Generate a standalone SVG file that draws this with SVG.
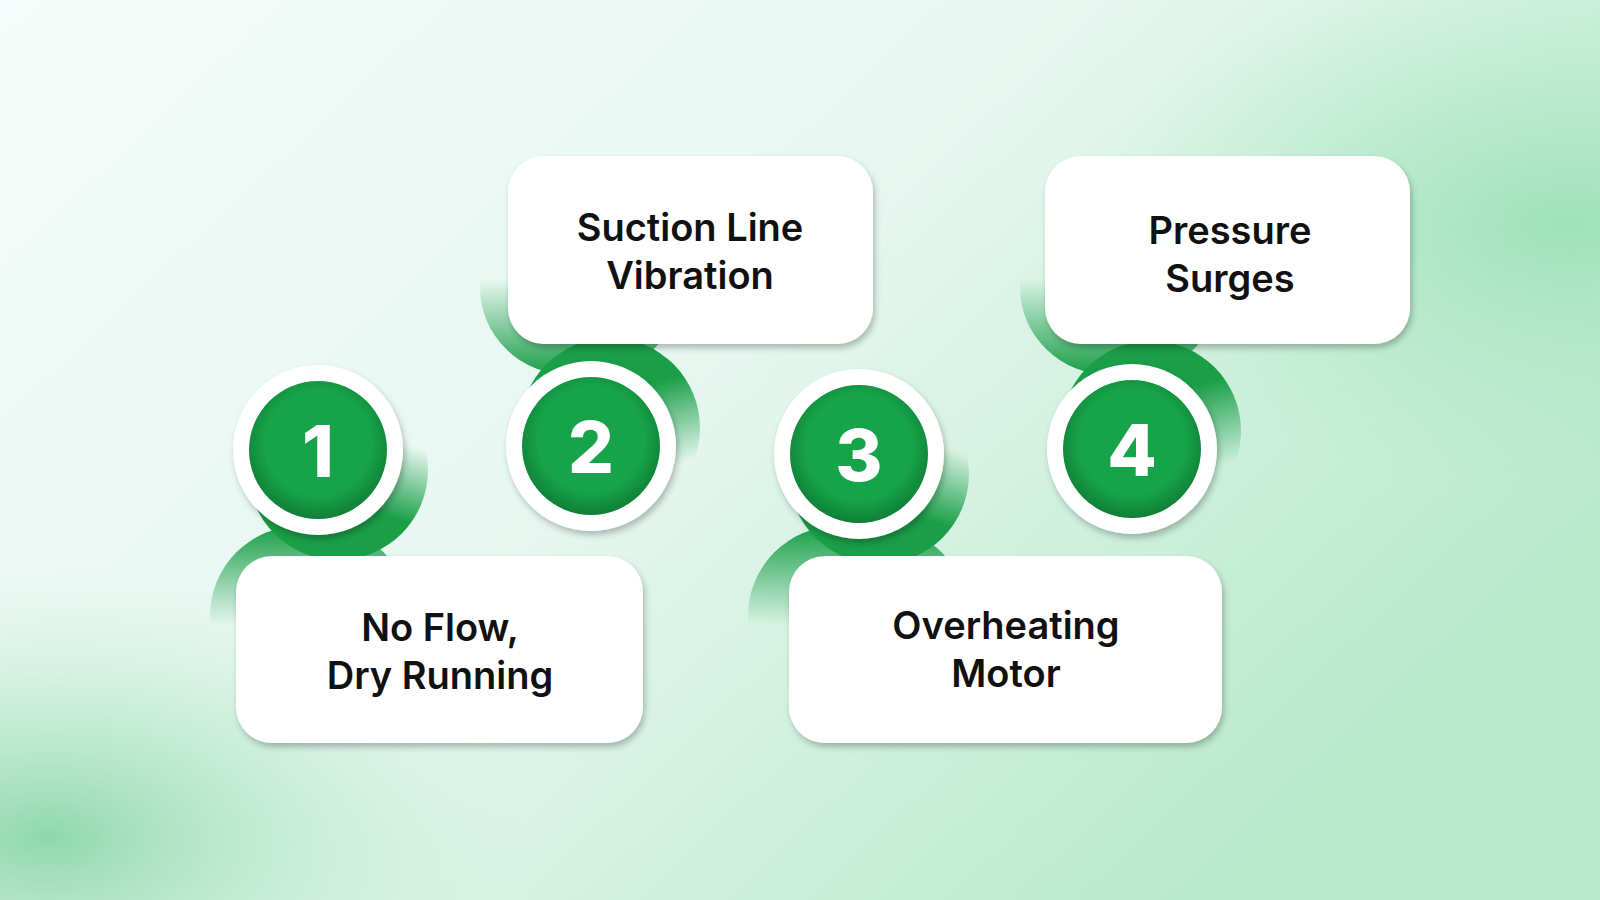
<svg xmlns="http://www.w3.org/2000/svg" width="1600" height="900" viewBox="0 0 1600 900">
<defs>
<linearGradient id="bg" x1="0" y1="0" x2="1" y2="0.6"><stop offset="0" stop-color="#f5fcfb"/><stop offset="0.5" stop-color="#e6f7f0"/><stop offset="1" stop-color="#b8e9cb"/></linearGradient>
<radialGradient id="bl" cx="0.03" cy="0.93" r="0.3"><stop offset="0" stop-color="#8fd8ab"/><stop offset="1" stop-color="#c8efd8" stop-opacity="0"/></radialGradient>
<radialGradient id="tr" cx="0.98" cy="0.25" r="0.3"><stop offset="0" stop-color="#9ee2b8"/><stop offset="1" stop-color="#b3e8c8" stop-opacity="0"/></radialGradient>
<linearGradient id="up" x1="0.3" y1="1" x2="0.6" y2="0"><stop offset="0.35" stop-color="#1a9e48"/><stop offset="0.75" stop-color="#1a9e48" stop-opacity="0"/></linearGradient>
<linearGradient id="down" x1="0.3" y1="0" x2="0.6" y2="1"><stop offset="0.35" stop-color="#1a9e48"/><stop offset="0.8" stop-color="#1a9e48" stop-opacity="0"/></linearGradient>
<linearGradient id="bandD" x1="0" y1="0" x2="0" y2="1"><stop offset="0" stop-color="#1a9e48"/><stop offset="0.55" stop-color="#1a9e48" stop-opacity="0"/></linearGradient>
<linearGradient id="bandU" x1="0" y1="1" x2="0" y2="0"><stop offset="0" stop-color="#1a9e48"/><stop offset="0.55" stop-color="#1a9e48" stop-opacity="0"/></linearGradient>
<radialGradient id="gr" cx="0.5" cy="0.45" r="0.55"><stop offset="0.7" stop-color="#17a34a"/><stop offset="1" stop-color="#0f7f36"/></radialGradient>
<filter id="sh" x="-20%" y="-20%" width="140%" height="140%"><feDropShadow dx="2" dy="4" stdDeviation="3" flood-color="#000" flood-opacity="0.25"/></filter>
</defs>
<style>
.box{fill:#fff;filter:url(#sh)}
.t{font-family:Inter,"Liberation Sans",sans-serif;font-weight:600;font-size:38px;fill:#111;text-anchor:middle}
.n{font-family:Inter,"Liberation Sans",sans-serif;font-weight:800;font-size:72px;fill:#fff;text-anchor:middle}
.ow{fill:#fff;filter:url(#sh)}
.in{fill:url(#gr)}
</style>
<rect width="1600" height="900" fill="url(#bg)"/>
<rect width="1600" height="900" fill="url(#bl)"/>
<rect width="1600" height="900" fill="url(#tr)"/>
<g id="connectors">
<circle cx="338" cy="470" r="90" fill="url(#up)"/>
<rect x="210" y="526" width="200" height="180" rx="90" fill="url(#bandD)"/>
<circle cx="610" cy="428" r="90" fill="url(#down)"/>
<rect x="480" y="200" width="200" height="175" rx="90" fill="url(#bandU)"/>
<circle cx="879" cy="474" r="90" fill="url(#up)"/>
<rect x="748" y="526" width="220" height="180" rx="90" fill="url(#bandD)"/>
<circle cx="1151" cy="431" r="90" fill="url(#down)"/>
<rect x="1020" y="200" width="200" height="175" rx="90" fill="url(#bandU)"/>
</g>
<g id="node1"><rect class="box" x="236" y="556" width="407" height="187" rx="36"/><text class="t" x="440" y="641">No Flow,</text><text class="t" x="440" y="689">Dry Running</text>
<circle class="ow" cx="318" cy="450" r="85"/><circle class="in" cx="318" cy="450" r="69"/><text class="n" x="318" y="477">1</text></g>
<g id="node2"><rect class="box" x="508" y="156" width="365" height="188" rx="36"/><text class="t" x="690" y="241">Suction Line</text><text class="t" x="690" y="289">Vibration</text>
<circle class="ow" cx="591" cy="446" r="85"/><circle class="in" cx="591" cy="446" r="69"/><text class="n" x="591" y="473">2</text></g>
<g id="node3"><rect class="box" x="789" y="556" width="433" height="187" rx="36"/><text class="t" x="1006" y="639">Overheating</text><text class="t" x="1006" y="687">Motor</text>
<circle class="ow" cx="859" cy="454" r="85"/><circle class="in" cx="859" cy="454" r="69"/><text class="n" x="859" y="481">3</text></g>
<g id="node4"><rect class="box" x="1045" y="156" width="365" height="188" rx="36"/><text class="t" x="1230" y="244">Pressure</text><text class="t" x="1230" y="292">Surges</text>
<circle class="ow" cx="1132" cy="449" r="85"/><circle class="in" cx="1132" cy="449" r="69"/><text class="n" x="1132" y="476">4</text></g>
</svg>
